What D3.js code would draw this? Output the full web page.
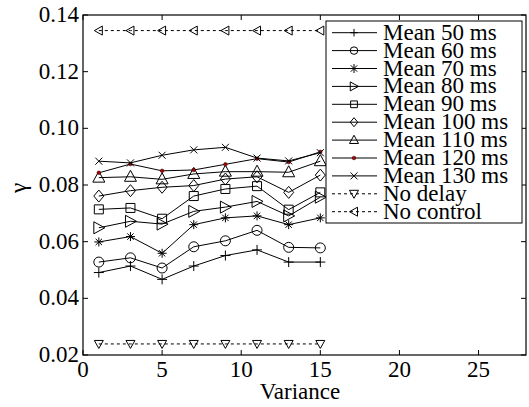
<!DOCTYPE html>
<html>
<head>
<meta charset="utf-8">
<script src="https://cdn.jsdelivr.net/npm/d3@7/dist/d3.min.js"></script>
<style>
  @font-face { font-family: "ChartSerif"; src: local("Liberation Serif"), local("LiberationSerif"), local("Times New Roman"), local("Tinos"); }
</style>
</head>
<body style="margin:0">
<svg id="chart" width="529" height="407"></svg>
<script>
// Variance levels (x) shared by every series
const variance = [1, 3, 5, 7, 9, 11, 13, 15];

// gamma for each mean delay
const mean50  = [0.0491, 0.0514, 0.0467, 0.0514, 0.0551, 0.0571, 0.0528, 0.0528];
const mean60  = [0.0528, 0.0543, 0.0507, 0.0582, 0.0603, 0.0640, 0.0580, 0.0578];
const mean70  = [0.0599, 0.0618, 0.0559, 0.0660, 0.0684, 0.0691, 0.0660, 0.0684];
const mean80  = [0.0649, 0.0672, 0.0662, 0.0707, 0.0722, 0.0742, 0.0691, 0.0757];
const mean90  = [0.0714, 0.0719, 0.0681, 0.0761, 0.0786, 0.0796, 0.0713, 0.0774];
const mean100 = [0.0761, 0.0780, 0.0792, 0.0798, 0.0821, 0.0829, 0.0774, 0.0835];
const mean110 = [0.0826, 0.0829, 0.0820, 0.0839, 0.0847, 0.0847, 0.0845, 0.0884];
const mean120 = [0.0843, 0.0874, 0.0850, 0.0853, 0.0873, 0.0893, 0.0881, 0.0917];
const mean130 = [0.0884, 0.0878, 0.0905, 0.0924, 0.0933, 0.0895, 0.0885, 0.0914];
const noDelay   = [0.0239, 0.0239, 0.0239, 0.0239, 0.0239, 0.0239, 0.0239, 0.0239];
const noControl = [0.1345, 0.1345, 0.1345, 0.1345, 0.1345, 0.1345, 0.1345, 0.1345];

const seriesNames = ["Mean 50 ms", "Mean 60 ms", "Mean 70 ms", "Mean 80 ms", "Mean 90 ms",
  "Mean 100 ms", "Mean 110 ms", "Mean 120 ms", "Mean 130 ms", "No delay", "No control"];
const seriesValues = [mean50, mean60, mean70, mean80, mean90, mean100, mean110, mean120,
  mean130, noDelay, noControl];
const seriesMarkers = ["plus", "circle", "star", "triRight", "square", "diamond", "triUp",
  "dot", "cross", "triDown", "triLeft"];
const seriesDashed = [false, false, false, false, false, false, false, false, false, true, true];

const xTicks = [0, 5, 10, 15, 20, 25];
const yTicks = [0.02, 0.04, 0.06, 0.08, 0.10, 0.12, 0.14];

const svg = d3.select("#chart");
const L = 83, R = 526, T = 15, B = 355;

const x = d3.scaleLinear().domain([0, 28]).range([L, R]);
const y = d3.scaleLinear().domain([0.02, 0.14]).range([B, T]);

// every label uses the same serif face
function addText(parent) {
  return parent.append("text")
    .attr("font-size", 23)
    .attr("font-family", "Times New Roman")
    .style("font-family", '"Times New Roman", ChartSerif');
}

// marker shapes as path strings centred on 0,0
function markerPath(kind, s) {
  switch (kind) {
    case "plus": return `M${-5*s},0H${5*s}M0,${-5*s}V${5*s}`;
    case "circle": return d3.arc()({innerRadius: 0, outerRadius: 5*s, startAngle: 0, endAngle: 2 * Math.PI});
    case "star": return "M-4.5,0H4.5M0,-4.5V4.5M-3.2,-3.2L3.2,3.2M-3.2,3.2L3.2,-3.2";
    case "triRight": return `M${-5*s},${-6*s}L${6*s},0L${-5*s},${6*s}Z`;
    case "square": return `M${-4.5*s},${-4.5*s}H${4.5*s}V${4.5*s}H${-4.5*s}Z`;
    case "diamond": return `M0,${-6*s}L${5*s},0L0,${6*s}L${-5*s},0Z`;
    case "triUp": return `M0,${-6.5*s}L${6*s},${4.5*s}H${-6*s}Z`;
    case "cross": return "M-3.5,-3.5L3.5,3.5M-3.5,3.5L3.5,-3.5";
    case "triDown": return "M-4.5,-3.5H4.5L0,4.5Z";
    case "triLeft": return "M-4.5,0L3.5,-4.5V4.5Z";
  }
  return "";
}

function drawMarker(g, kind, cx, cy, s = 1) {
  if (kind === "dot") {
    g.append("circle").attr("cx", cx).attr("cy", cy).attr("r", 1.8)
      .attr("fill", "#b00000").attr("stroke", "#300").attr("stroke-width", 0.6);
    return;
  }
  g.append("path").attr("d", markerPath(kind, s))
    .attr("transform", `translate(${cx},${cy})`)
    .attr("fill", "none").attr("stroke", "#000").attr("stroke-width", 1);
}

// Plot frame
svg.append("rect").attr("x", L).attr("y", T).attr("width", R - L).attr("height", B - T)
  .attr("fill", "none").attr("stroke", "#000").attr("stroke-width", 1.2);

// Inward ticks on all four sides
const tickLen = 5;
const axisG = svg.append("g").attr("stroke", "#000").attr("stroke-width", 1);
xTicks.forEach(t => {
  axisG.append("line").attr("x1", x(t)).attr("x2", x(t)).attr("y1", B).attr("y2", B - tickLen);
  axisG.append("line").attr("x1", x(t)).attr("x2", x(t)).attr("y1", T).attr("y2", T + tickLen);
});
yTicks.forEach(t => {
  axisG.append("line").attr("y1", y(t)).attr("y2", y(t)).attr("x1", L).attr("x2", L + tickLen);
  axisG.append("line").attr("y1", y(t)).attr("y2", y(t)).attr("x1", R).attr("x2", R - tickLen);
});

// Tick labels
xTicks.forEach(t => {
  addText(svg).attr("x", x(t)).attr("y", 377).attr("text-anchor", "middle").text(t);
});
yTicks.forEach(t => {
  addText(svg).attr("x", 79).attr("y", y(t) + 7).attr("text-anchor", "end")
    .text(d3.format(".2f")(t));
});

// Axis titles
addText(svg).attr("x", 300).attr("y", 399).attr("text-anchor", "middle").text("Variance");
addText(svg).attr("transform", "translate(26,188) rotate(-90)")
  .attr("text-anchor", "middle").text("γ");

// Series
const line = d3.line().x((d, i) => x(variance[i])).y(d => y(d));
const plotG = svg.append("g");
seriesValues.forEach((vals, k) => {
  plotG.append("path").attr("d", line(vals)).attr("fill", "none")
    .attr("stroke", "#000").attr("stroke-width", 1)
    .attr("stroke-dasharray", seriesDashed[k] ? "3,3" : null);
  vals.forEach((v, i) => drawMarker(plotG, seriesMarkers[k], x(variance[i]), y(v)));
});

// Legend
const legX = 326, legY = 21, legW = 196, legH = 202, rowH = 17.9;
const leg = svg.append("g");
leg.append("rect").attr("x", legX).attr("y", legY).attr("width", legW).attr("height", legH)
  .attr("fill", "#fff").attr("stroke", "#000").attr("stroke-width", 1);
seriesNames.forEach((name, k) => {
  const cy = legY + 11.7 + k * rowH;
  leg.append("line").attr("x1", legX + 6).attr("x2", legX + 51).attr("y1", cy).attr("y2", cy)
    .attr("stroke", "#000").attr("stroke-width", 1)
    .attr("stroke-dasharray", seriesDashed[k] ? "3,3" : null);
  drawMarker(leg, seriesMarkers[k], legX + 28, cy, 0.75);
  addText(leg).attr("x", legX + 57).attr("y", cy + 7).text(name);
});
</script>
</body>
</html>
